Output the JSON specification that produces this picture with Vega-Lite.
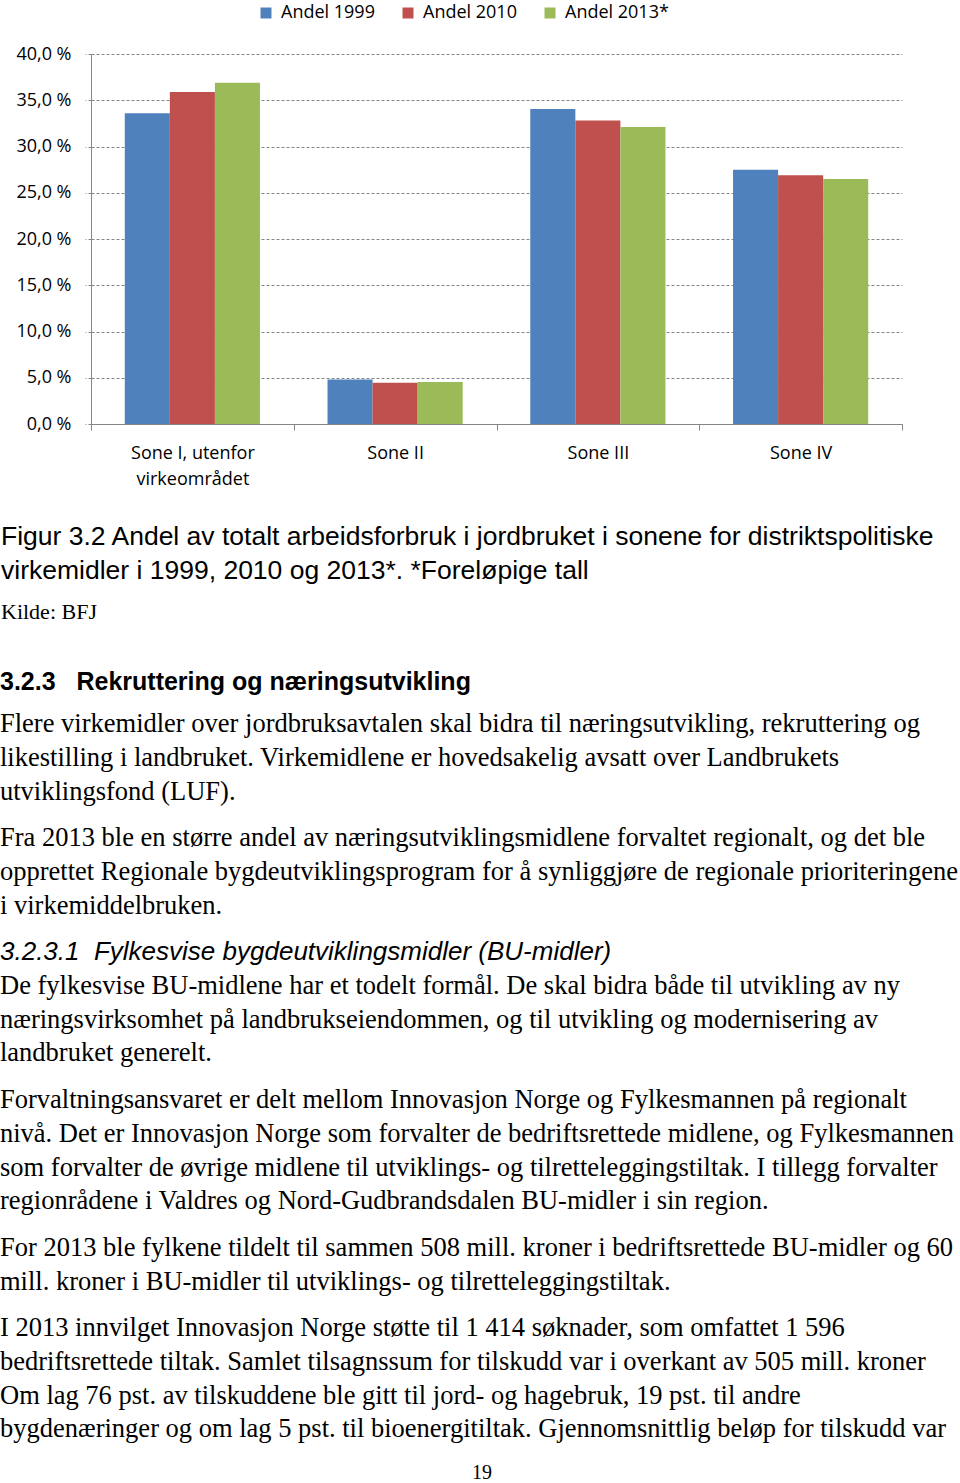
{
  "$schema": "https://vega.github.io/schema/vega-lite/v6.json",
  "padding": {"top": 4, "left": 0, "right": 0, "bottom": 0},
  "background": "white",
  "config": {"view": {"stroke": null}},
  "datasets": {
    "andeler": [
      {"sone": "Sone I, utenfor virkeområdet", "serie": "Andel 1999", "andel": 33.6},
      {"sone": "Sone I, utenfor virkeområdet", "serie": "Andel 2010", "andel": 35.9},
      {"sone": "Sone I, utenfor virkeområdet", "serie": "Andel 2013*", "andel": 36.9},
      {"sone": "Sone II", "serie": "Andel 1999", "andel": 4.8},
      {"sone": "Sone II", "serie": "Andel 2010", "andel": 4.47},
      {"sone": "Sone II", "serie": "Andel 2013*", "andel": 4.55},
      {"sone": "Sone III", "serie": "Andel 1999", "andel": 34.05},
      {"sone": "Sone III", "serie": "Andel 2010", "andel": 32.8},
      {"sone": "Sone III", "serie": "Andel 2013*", "andel": 32.1},
      {"sone": "Sone IV", "serie": "Andel 1999", "andel": 27.5},
      {"sone": "Sone IV", "serie": "Andel 2010", "andel": 26.9},
      {"sone": "Sone IV", "serie": "Andel 2013*", "andel": 26.5}
    ],
    "tekst": [
      {"avsnitt": "overskrift", "linje": 1, "tekst": "3.2.3\u00a0\u00a0\u00a0Rekruttering og næringsutvikling"},
      {"avsnitt": "a1", "linje": 1, "tekst": "Flere virkemidler over jordbruksavtalen skal bidra til næringsutvikling, rekruttering og"},
      {"avsnitt": "a1", "linje": 2, "tekst": "likestilling i landbruket. Virkemidlene er hovedsakelig avsatt over Landbrukets"},
      {"avsnitt": "a1", "linje": 3, "tekst": "utviklingsfond (LUF)."},
      {"avsnitt": "a2", "linje": 1, "tekst": "Fra 2013 ble en større andel av næringsutviklingsmidlene forvaltet regionalt, og det ble"},
      {"avsnitt": "a2", "linje": 2, "tekst": "opprettet Regionale bygdeutviklingsprogram for å synliggjøre de regionale prioriteringene"},
      {"avsnitt": "a2", "linje": 3, "tekst": "i virkemiddelbruken."},
      {"avsnitt": "a3", "linje": 1, "tekst": "3.2.3.1\u00a0\u00a0Fylkesvise bygdeutviklingsmidler (BU-midler)"},
      {"avsnitt": "a3", "linje": 2, "tekst": "De fylkesvise BU-midlene har et todelt formål. De skal bidra både til utvikling av ny"},
      {"avsnitt": "a3", "linje": 3, "tekst": "næringsvirksomhet på landbrukseiendommen, og til utvikling og modernisering av"},
      {"avsnitt": "a3", "linje": 4, "tekst": "landbruket generelt."},
      {"avsnitt": "a4", "linje": 1, "tekst": "Forvaltningsansvaret er delt mellom Innovasjon Norge og Fylkesmannen på regionalt"},
      {"avsnitt": "a4", "linje": 2, "tekst": "nivå. Det er Innovasjon Norge som forvalter de bedriftsrettede midlene, og Fylkesmannen"},
      {"avsnitt": "a4", "linje": 3, "tekst": "som forvalter de øvrige midlene til utviklings- og tilretteleggingstiltak. I tillegg forvalter"},
      {"avsnitt": "a4", "linje": 4, "tekst": "regionrådene i Valdres og Nord-Gudbrandsdalen BU-midler i sin region."},
      {"avsnitt": "a5", "linje": 1, "tekst": "For 2013 ble fylkene tildelt til sammen 508 mill. kroner i bedriftsrettede BU-midler og 60"},
      {"avsnitt": "a5", "linje": 2, "tekst": "mill. kroner i BU-midler til utviklings- og tilretteleggingstiltak."},
      {"avsnitt": "a6", "linje": 1, "tekst": "I 2013 innvilget Innovasjon Norge støtte til 1 414 søknader, som omfattet 1 596"},
      {"avsnitt": "a6", "linje": 2, "tekst": "bedriftsrettede tiltak. Samlet tilsagnssum for tilskudd var i overkant av 505 mill. kroner"},
      {"avsnitt": "a6", "linje": 3, "tekst": "Om lag 76 pst. av tilskuddene ble gitt til jord- og hagebruk, 19 pst. til andre"},
      {"avsnitt": "a6", "linje": 4, "tekst": "bygdenæringer og om lag 5 pst. til bioenergitiltak. Gjennomsnittlig beløp for tilskudd var"},
      {"avsnitt": "side", "linje": 1, "tekst": "19"}
    ]
  },
  "concat": [
    {
      "spacing": 0,
      "hconcat": [
        {
          "width": 1,
          "height": 370,
          "data": {"values": []},
          "mark": {"type": "text"},
          "encoding": {"text": {"value": ""}}
        },
        {
          "width": 811,
          "height": 370,
          "data": {"name": "andeler"},
          "title": {
            "text": ["Figur 3.2 Andel av totalt arbeidsforbruk i jordbruket i sonene for distriktspolitiske", "virkemidler i 1999, 2010 og 2013*. *Foreløpige tall"],
            "subtitle": "Kilde: BFJ",
            "orient": "bottom",
            "anchor": "start",
            "frame": "group",
            "dx": -90,
            "offset": 36,
            "font": "Liberation Sans",
            "fontSize": 26.5,
            "fontWeight": "normal",
            "color": "black",
            "lineHeight": 34,
            "subtitleFont": "Liberation Serif",
            "subtitleFontSize": 22,
            "subtitleColor": "black",
            "subtitlePadding": 17
          },
          "mark": {"type": "bar"},
          "encoding": {
            "x": {
              "field": "sone",
              "type": "nominal",
              "sort": ["Sone I, utenfor virkeområdet", "Sone II", "Sone III", "Sone IV"],
              "scale": {"paddingInner": 0, "paddingOuter": 0},
              "axis": {
                "title": null,
                "labelAngle": 0,
                "tickBand": "extent",
                "tickSize": 6,
                "tickColor": "#868686",
                "domainColor": "#868686",
                "labelFont": "Open Sans",
                "labelFontSize": 18,
                "labelColor": "black",
                "labelPadding": 14,
                "labelLineHeight": 26,
                "labelExpr": "datum.value === 'Sone I, utenfor virkeområdet' ? ['Sone I, utenfor', 'virkeområdet'] : datum.label"
              }
            },
            "xOffset": {
              "field": "serie",
              "type": "nominal",
              "sort": ["Andel 1999", "Andel 2010", "Andel 2013*"],
              "scale": {"paddingInner": 0, "paddingOuter": 0.75}
            },
            "y": {
              "field": "andel",
              "type": "quantitative",
              "scale": {"domain": [0, 40]},
              "axis": {
                "title": null,
                "values": [0, 5, 10, 15, 20, 25, 30, 35, 40],
                "labelExpr": "replace(format(datum.value, '.1f'), '.', ',') + ' %'",
                "grid": true,
                "gridDash": [3, 2],
                "gridColor": "#868686",
                "tickDash": [3, 2],
                "tickSize": 6,
                "tickColor": "#868686",
                "domainColor": "#868686",
                "labelFont": "Open Sans",
                "labelFontSize": 18,
                "labelColor": "black",
                "labelPadding": 14
              }
            },
            "color": {
              "field": "serie",
              "type": "nominal",
              "scale": {"domain": ["Andel 1999", "Andel 2010", "Andel 2013*"], "range": ["#4F81BD", "#C0504D", "#9BBB59"]},
              "legend": {
                "title": null,
                "orient": "none",
                "direction": "horizontal",
                "legendX": 257,
                "legendY": -50,
                "symbolType": "square",
                "symbolSize": 121,
                "symbolStrokeWidth": 0,
                "labelFont": "Open Sans",
                "labelFontSize": 18,
                "labelColor": "black",
                "labelOffset": 6,
                "columnPadding": 24
              }
            }
          }
        }
      ]
    },
    {
      "columns": 1,
      "spacing": 12,
      "concat": [
        {
          "width": 960,
          "height": {"step": 26},
          "data": {"name": "tekst"},
          "transform": [{"filter": "datum.avsnitt === 'overskrift'"}],
          "mark": {"type": "text", "align": "left", "baseline": "middle", "font": "Liberation Sans", "fontWeight": "bold", "fontSize": 25, "color": "black"},
          "encoding": {"y": {"field": "linje", "type": "ordinal", "axis": null}, "x": {"value": 0}, "text": {"field": "tekst"}}
        },
        {
          "width": 960,
          "height": {"step": 33.8},
          "data": {"name": "tekst"},
          "transform": [{"filter": "datum.avsnitt === 'a1'"}],
          "mark": {"type": "text", "align": "left", "baseline": "middle", "font": "Liberation Serif", "fontSize": 26.5, "color": "black"},
          "encoding": {"y": {"field": "linje", "type": "ordinal", "axis": null}, "x": {"value": 0}, "text": {"field": "tekst"}}
        },
        {
          "width": 960,
          "height": {"step": 33.8},
          "data": {"name": "tekst"},
          "transform": [{"filter": "datum.avsnitt === 'a2'"}],
          "mark": {"type": "text", "align": "left", "baseline": "middle", "font": "Liberation Serif", "fontSize": 26.5, "color": "black"},
          "encoding": {"y": {"field": "linje", "type": "ordinal", "axis": null}, "x": {"value": 0}, "text": {"field": "tekst"}}
        },
        {
          "width": 960,
          "height": {"step": 33.8},
          "data": {"name": "tekst"},
          "transform": [{"filter": "datum.avsnitt === 'a3'"}],
          "encoding": {"y": {"field": "linje", "type": "ordinal", "axis": null}, "x": {"value": 0}, "text": {"field": "tekst"}},
          "layer": [
            {
              "transform": [{"filter": "datum.linje === 1"}],
              "mark": {"type": "text", "align": "left", "baseline": "middle", "font": "Liberation Sans", "fontStyle": "italic", "fontSize": 26, "color": "black"}
            },
            {
              "transform": [{"filter": "datum.linje > 1"}],
              "mark": {"type": "text", "align": "left", "baseline": "middle", "font": "Liberation Serif", "fontSize": 26.5, "color": "black"}
            }
          ]
        },
        {
          "width": 960,
          "height": {"step": 33.8},
          "data": {"name": "tekst"},
          "transform": [{"filter": "datum.avsnitt === 'a4'"}],
          "mark": {"type": "text", "align": "left", "baseline": "middle", "font": "Liberation Serif", "fontSize": 26.5, "color": "black"},
          "encoding": {"y": {"field": "linje", "type": "ordinal", "axis": null}, "x": {"value": 0}, "text": {"field": "tekst"}}
        },
        {
          "width": 960,
          "height": {"step": 33.8},
          "data": {"name": "tekst"},
          "transform": [{"filter": "datum.avsnitt === 'a5'"}],
          "mark": {"type": "text", "align": "left", "baseline": "middle", "font": "Liberation Serif", "fontSize": 26.5, "color": "black"},
          "encoding": {"y": {"field": "linje", "type": "ordinal", "axis": null}, "x": {"value": 0}, "text": {"field": "tekst"}}
        },
        {
          "width": 960,
          "height": {"step": 33.8},
          "data": {"name": "tekst"},
          "transform": [{"filter": "datum.avsnitt === 'a6'"}],
          "mark": {"type": "text", "align": "left", "baseline": "middle", "font": "Liberation Serif", "fontSize": 26.5, "color": "black"},
          "encoding": {"y": {"field": "linje", "type": "ordinal", "axis": null}, "x": {"value": 0}, "text": {"field": "tekst"}}
        },
        {
          "width": 964,
          "height": {"step": 28},
          "data": {"name": "tekst"},
          "transform": [{"filter": "datum.avsnitt === 'side'"}],
          "mark": {"type": "text", "align": "center", "baseline": "middle", "font": "Liberation Serif", "fontSize": 20, "color": "black"},
          "encoding": {"y": {"field": "linje", "type": "ordinal", "axis": null}, "text": {"field": "tekst"}}
        }
      ]
    }
  ],
  "columns": 1,
  "spacing": 46
}
